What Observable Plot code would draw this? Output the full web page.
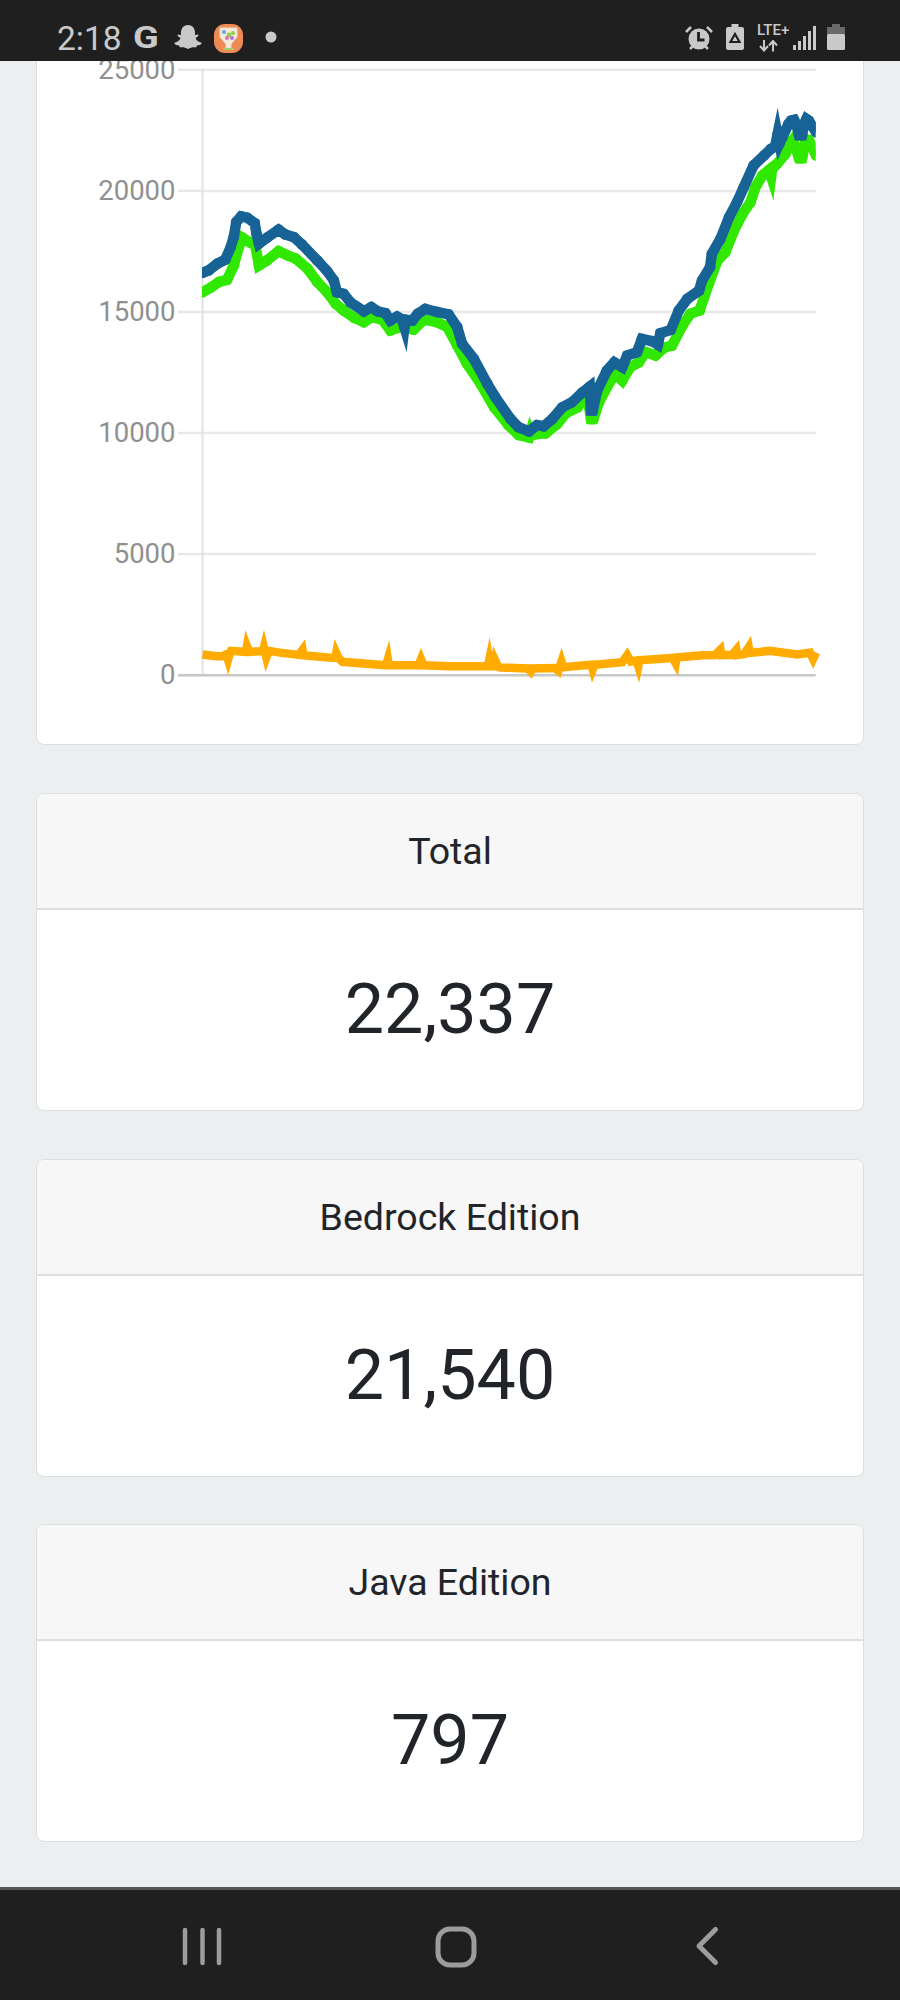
<!DOCTYPE html>
<html><head><meta charset="utf-8">
<style>
html,body{margin:0;padding:0;width:900px;height:2000px;background:#ebeff0;overflow:hidden;font-family:Roboto,sans-serif;color:#212529}
.abs{position:absolute}
.card{position:absolute;left:36px;width:826px;background:#fff;border:1px solid #dcdee0;border-radius:8px;box-sizing:content-box;overflow:hidden}
.hdr{height:114px;line-height:115px;background:#f7f7f7;border-bottom:2px solid #dcdee0;text-align:center;font-size:37.5px}
.val{text-align:center;font-size:70px;line-height:198px}
#status{position:absolute;left:0;top:0;width:900px;height:61px;background:#1f1f1f;color:#c9c9c9;z-index:5}
#nav{position:absolute;left:0;top:1887px;width:900px;height:113px;background:#1f1f1f;border-top:3px solid #555;box-sizing:border-box;z-index:5}
</style>
<script src="https://cdn.jsdelivr.net/npm/d3@7"></script>
<script src="https://cdn.jsdelivr.net/npm/@observablehq/plot@0.6"></script>
</head><body>
<div class="card" style="top:-20px;height:763px"></div>
<div id="chart" class="abs" style="left:36px;top:40px;z-index:2"></div>
<div class="card" style="top:793px;height:316px"><div class="hdr">Total</div><div class="val">22,337</div></div>
<div class="card" style="top:1159px;height:316px"><div class="hdr">Bedrock Edition</div><div class="val">21,540</div></div>
<div class="card" style="top:1524px;height:316px"><div class="hdr">Java Edition</div><div class="val">797</div></div>

<div id="status">
 <div class="abs" style="left:57px;top:20px;font-size:33.500px;line-height:38px;font-weight:400">2:18</div>
 <div class="abs" style="left:133px;top:19px;font-size:31px;line-height:38px;font-weight:700;transform:scaleX(1.22);transform-origin:left center">G</div>
 <svg class="abs" style="left:174px;top:25px" width="28" height="24" viewBox="0 0 28 24"><path d="M14 0C19 0 21 4 21 8L21 10L24 9.500L24.500 11L21.500 13C22 15 24.500 17 28 18L26 20L23 20.500L22 22.500C19 22 17 22.500 14 24C11 22.500 9 22 6 22.500L5 20.500L2 20L0 18C3.500 17 6 15 6.500 13L3.500 11L4 9.500L7 10L7 8C7 4 9 0 14 0z" fill="#c9c9c9"/></svg>
 <svg class="abs" style="left:214px;top:24px" width="29" height="29" viewBox="0 0 29 29"><rect width="29" height="29" rx="11" fill="#f08a55"/><path d="M6 4h17v9l-6 7v5h-5v-5l-6-7z" fill="#f4ead8" stroke="#e8e0d0" stroke-width="1"/><circle cx="10" cy="8" r="2" fill="#6f9fe0"/><circle cx="15" cy="11" r="2.500" fill="#8fd14f"/><circle cx="19" cy="9" r="2" fill="#8fd14f"/><circle cx="13" cy="14" r="2" fill="#e070b0"/><circle cx="18" cy="14" r="2" fill="#b070e0"/><rect x="9" y="24" width="11" height="2" fill="#9fd070"/></svg>
 <svg class="abs" style="left:264px;top:29px" width="14" height="16"><circle cx="7" cy="8" r="5.500" fill="#c9c9c9"/></svg>
 <svg class="abs" style="left:685px;top:25px" width="28" height="26" viewBox="0 0 28 26"><circle cx="14" cy="14" r="10.500" fill="#c9c9c9"/><path d="M13.500 7v8h6" stroke="#1f1f1f" stroke-width="2.800" fill="none"/><path d="M1 7l5-5M27 7l-5-5M5 24l3-3M23 24l-3-3" stroke="#c9c9c9" stroke-width="2.500"/></svg>
 <svg class="abs" style="left:726px;top:24px" width="18" height="26" viewBox="0 0 18 26"><path d="M5.500 0h7v3h3.500a2 2 0 0 1 2 2v19a2 2 0 0 1-2 2H2a2 2 0 0 1-2-2V5a2 2 0 0 1 2-2h3.500z" fill="#c9c9c9"/><path d="M9 10l4.500 8h-9z" fill="none" stroke="#1f1f1f" stroke-width="2.200"/></svg>
 <div class="abs" style="left:757px;top:23px;font-size:15px;line-height:15px;font-weight:500">LTE+</div>
 <svg class="abs" style="left:759px;top:40px" width="20" height="12" viewBox="0 0 20 12"><path d="M5 0v10M1 6l4 4.500L9 6M14 11.500V1.500M10 5.500l4-4.500 4 4.500" fill="none" stroke="#c9c9c9" stroke-width="2"/></svg>
 <svg class="abs" style="left:793px;top:26px" width="24" height="24"><g fill="#c9c9c9"><rect x="0" y="19" width="3" height="5"/><rect x="5" y="15" width="3" height="9"/><rect x="10" y="10" width="3" height="14"/><rect x="15" y="5" width="3" height="19"/><rect x="20" y="0" width="3" height="24"/></g></svg>
 <svg class="abs" style="left:827px;top:24px" width="18" height="26"><rect x="5" y="0" width="8" height="4" fill="#6a6a6a"/><rect x="0" y="3" width="18" height="8" fill="#6a6a6a"/><rect x="0" y="10" width="18" height="16" rx="1.500" fill="#c9c9c9"/></svg>
</div>
<div id="nav">
 <svg class="abs" style="left:181px;top:34px" width="44" height="44"><g stroke="#9c9c9c" stroke-width="4.500" stroke-linecap="round"><path d="M4 6v33M21.500 6v33M38 6v33"/></g></svg>
 <svg class="abs" style="left:433.500px;top:34.500px" width="46" height="46"><rect x="4" y="4" width="36" height="36" rx="12" fill="none" stroke="#9c9c9c" stroke-width="5"/></svg>
 <svg class="abs" style="left:693px;top:34px" width="30" height="46"><path d="M22.500 5.500L6 22l16.500 16.500" fill="none" stroke="#9c9c9c" stroke-width="5" stroke-linecap="round" stroke-linejoin="round"/></svg>
</div>

<script>
const yTicks = [0, 5000, 10000, 15000, 20000, 25000];

const blueT = [0,1,2.4,3.7,4.6,5.1,5.5,6.3,7.3,8.5,8.8,9.2,10.5,12.4,13.5,14.9,16.2,18.7,20.3,21.4,21.9,23,24.1,26.3,27.5,28.5,29.8,30.6,31.7,32.5,32.9,33.05,34.2,35.1,36.3,38.2,40.1,41.5,42.3,44.2,46.4,47.7,50.2,51.5,53.2,54.5,55.6,57,58.6,60.2,61.9,63.1,63.3,63.6,64.3,65.9,67.1,68.4,69.2,70.8,71.6,73.3,74.2,74.6,76.3,77.6,79,80.9,81.4,82.7,83,84.4,85.8,87.1,88.2,89.8,91.5,92.6,93.3,93.7,94,94.5,95.5,95.9,96.4,96.8,97.2,97.7,98.1,98.4,98.8,99.3,100];
const blueV = [16620,16716,16990,17157,17680,18100,18712,18950,18890,18670,18230,17820,18065,18400,18200,18090,17790,17130,16690,16300,15820,15750,15400,15030,15200,15030,14950,14650,14810,14700,14370,14680,14650,14930,15130,15000,14900,14380,13690,13070,12040,11490,10580,10240,10070,10330,10280,10580,11060,11270,11680,11920,10930,10930,11750,12580,12920,12720,13200,13340,13890,13790,13650,14120,14260,15060,15540,15880,16300,16850,17400,18020,18910,19530,20150,21050,21460,21730,21830,22330,21950,22220,22770,22900,22930,22700,22300,22300,22800,22970,22900,22700,22420];

const greenT = [0,1.3,2.7,4,5.1,5.9,6.5,7.6,8.6,9.2,10.5,12.4,13.8,15.2,17.1,18.7,20.3,21.7,23,24.7,26.3,27.6,29.3,30.6,32.3,34.4,36.1,38.2,39.9,41.5,43.1,45.3,47.5,49.9,51.5,53.2,53.4,53.55,54.5,55.9,57.8,59.2,61.1,61.9,62.8,63.3,63.7,64.6,66.5,67.3,68.4,69.7,71.1,72.2,73.8,75.2,76.5,78.2,79.5,81,82.5,83.9,85.2,86.6,88,89.3,90.1,91.2,92.3,92.65,92.8,93.6,95,95.7,96.1,96.5,97.2,97.7,98.3,98.8,100];
const greenV = [15820,16000,16240,16330,16920,17680,18065,17890,17750,16920,17130,17510,17340,17200,16790,16240,15820,15340,15060,14760,14580,14790,14680,14240,14380,14270,14680,14580,14380,13620,12860,12040,11070,10310,9920,9820,10000,9900,9960,9990,10375,10815,11060,11340,11410,10580,10580,11270,12165,12440,12165,12720,12920,13340,13200,13520,13610,14440,14920,15060,16160,17120,17470,18360,19050,19530,20150,20630,20860,20590,20900,21115,21530,21950,22080,21900,21350,21350,22100,22100,21460];

const orangeT = [0,2.3,3.4,3.9,4.16,4.5,4.64,6.7,7.1,7.25,7.6,9.4,9.85,10,10.4,10.8,12.9,15.7,16.3,16.45,21.1,21.65,21.8,22.2,22.8,29.3,29.9,30.2,30.35,35.2,35.6,36,40.3,46.1,46.5,46.7,46.85,47.55,47.7,48.2,48.5,53,53.5,53.8,57.4,58,58.5,58.8,62.3,63.4,63.6,63.9,68.4,69.2,69.8,70.7,71,71.2,76.6,77.1,77.25,81.5,83.5,84.4,84.55,86.3,87,87.15,88.3,89,89.15,92.4,96.9,99,99.5,100];
const orangeV = [854,785,790,860,640,950,1005,970,965,1195,965,990,1000,1150,730,1005,922,840,1046,826,716,716,920,700,551,420,413,663,413,413,663,410,372,372,372,612,372,365,612,340,317,280,145,275,300,177,567,330,413,430,240,430,540,826,560,600,370,620,715,490,730,826,830,1056,830,840,1050,830,870,1150,920,1005,854,930,670,936];

const rows = (t, v) => t.map((d, i) => ({t: d, v: v[i]}));
const lineOpts = {x: "t", y: "v", strokeWidth: 10.5, strokeLinejoin: "miter", strokeLinecap: "butt", strokeMiterlimit: 10, clip: true};
const dotOpts = {x: "t", y: "v", r: 5.4, clip: true};

const chart = Plot.plot({
  width: 828, height: 704,
  marginLeft: 166, marginRight: 48.3, marginTop: 29.3, marginBottom: 69.3,
  style: {background: "transparent", fontFamily: "Roboto, sans-serif", overflow: "visible"},
  x: {domain: [0, 100], axis: null},
  y: {domain: [0, 25000], axis: null},
  marks: [
    Plot.ruleY(yTicks.filter(d => d > 0), {stroke: "#e8e8e8", strokeWidth: 2.5, x1: 0, x2: 100}),
    Plot.ruleX([0], {stroke: "#e2e2e2", strokeWidth: 2, y1: 0, y2: 25000}),
    Plot.axisY({ticks: yTicks, tickSize: 24, tickPadding: 3, stroke: "#e8e8e8", strokeWidth: 2.5, fill: "#909090", fontSize: 27.5, tickFormat: d => String(d), label: null, tickRotate: 0, textStroke: "none"}),
    Plot.ruleY([0], {stroke: "#c8c8c8", strokeWidth: 2.5, x1: -3.9, x2: 100}),
    Plot.line(rows(orangeT, orangeV), {...lineOpts, clip: false, stroke: "#ffab00", strokeWidth: 8.5}),
    Plot.line(rows(greenT, greenV), {...lineOpts, stroke: "#30e800"}),
    Plot.dot(rows(greenT, greenV), {...dotOpts, fill: "#30e800"}),
    Plot.line(rows(blueT, blueV), {...lineOpts, stroke: "#186395"}),
    Plot.dot(rows(blueT, blueV), {...dotOpts, fill: "#186395"})
  ]
});
document.getElementById("chart").appendChild(chart);
</script>
</body></html>
